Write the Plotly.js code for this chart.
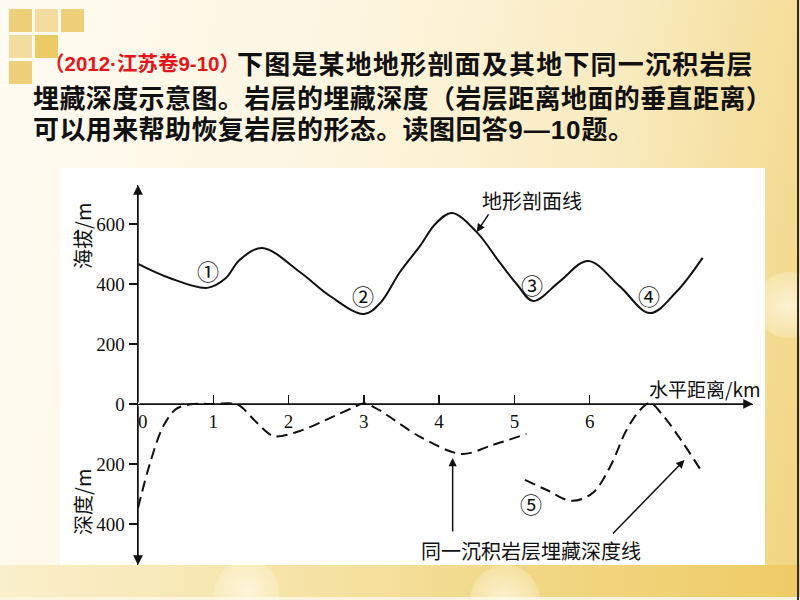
<!DOCTYPE html>
<html>
<head>
<meta charset="utf-8">
<script src="https://cdn.plot.ly/plotly-3.0.1.min.js"></script>
<style>
  html, body { margin: 0; padding: 0; }
  #slide {
    position: relative; width: 800px; height: 600px; overflow: hidden;
    background: linear-gradient(100deg, #fffbf2 0%, #fdf5df 40%, #f9ebc0 70%, #f4dc95 90%, #f1d47f 100%);
    font-family: "Noto Sans CJK SC", sans-serif;
  }
  .sq { position: absolute; width: 23px; height: 23px; }
  .dk { background: #eed07a; }
  .lt { background: #f3dd9e; }
  #bottomband {
    position: absolute; left: 0; top: 565px; width: 800px; height: 32px;
    background: linear-gradient(90deg, #faefcc 0%, #f6e4a9 35%, #f2d886 65%, #eecb65 100%);
  }
  #bottomline { position: absolute; left: 0; top: 597px; width: 800px; height: 3px; background: #fcf4dc; }
  #rightline { position: absolute; left: 797px; top: 0; width: 2px; height: 600px; background: #2a2a2a; }
  .glow { position: absolute; border-radius: 50%;
    background: radial-gradient(circle, rgba(255,250,230,0.75) 0%, rgba(255,250,230,0.35) 60%, rgba(255,250,230,0) 100%); }
  #whitebox { position: absolute; left: 60px; top: 168px; width: 705px; height: 397px; background: #ffffff; }
  .line { position: absolute; white-space: nowrap; font-weight: bold; color: #111; font-size: 26px; line-height: 26px; letter-spacing: 0.4px; }
  .red { color: #e3151a; font-size: 20.5px; line-height: 20px; font-family: "Liberation Sans", "Noto Sans CJK SC", sans-serif; letter-spacing: 0; }
  .lat { font-family: "Liberation Sans", sans-serif; letter-spacing: 1px; }
  #chart { position: absolute; left: 0; top: 0; width: 800px; height: 600px; }
</style>
</head>
<body>
<div id="slide">
  <div class="sq dk" style="left:9px;top:9px"></div>
  <div class="sq lt" style="left:35px;top:9px"></div>
  <div class="sq dk" style="left:61px;top:9px"></div>
  <div class="sq lt" style="left:9px;top:35px"></div>
  <div class="sq dk" style="left:35px;top:35px;background:#ecca64"></div>
  <div class="sq dk" style="left:9px;top:61px"></div>
  <div id="bottomband"></div>
  <div id="bottomline"></div>
  <div class="glow" style="left:215px;top:560px;width:64px;height:64px"></div>
  <div class="glow" style="left:470px;top:565px;width:70px;height:70px"></div>
  <div class="glow" style="left:755px;top:272px;width:66px;height:66px"></div>
  <div id="rightline"></div>
  <div id="whitebox"></div>
  <div class="line red" style="left:44px;top:54px">（2012·江苏卷9-10）</div>
  <div class="line" style="left:237px;top:50px;letter-spacing:1.2px">下图是某地地形剖面及其地下同一沉积岩层</div>
  <div class="line" style="left:33px;top:84px">埋藏深度示意图。岩层的埋藏深度（岩层距离地面的垂直距离）</div>
  <div class="line" style="left:33px;top:115px">可以用来帮助恢复岩层的形态。读图回答<span class="lat">9—10</span>题。</div>
  <div id="chart"></div>
</div>
<script>
// ---- data ----
// Terrain profile (horizontal distance in km, elevation in m)
const terrainKm   = [0, 0.42, 0.92, 1.16, 1.35, 1.65, 2.15, 2.55, 3.0, 3.22, 3.48, 3.75, 3.95, 4.17, 4.5, 4.81, 5.03, 5.25, 5.6, 5.98, 6.4, 6.8, 7.15, 7.5];
const terrainElev = [467, 420, 387, 418, 480, 520, 440, 360, 300, 337, 440, 528, 600, 637, 573, 470, 400, 343, 408, 477, 392, 303, 373, 487];
// Burial depth of the same sedimentary layer (m below ground), two segments
const depthKm1 = [0, 0.16, 0.33, 0.5, 0.68, 1.0, 1.32, 1.55, 1.8, 2.15, 2.5, 2.86, 3.0, 3.2, 3.75, 4.3, 4.71, 5.16];
const depth1   = [347, 197, 77, 18, 2, 0, 2, 55, 107, 90, 53, 12, -2, 20, 110, 167, 137, 100];
const depthKm2 = [5.14, 5.43, 5.76, 6.04, 6.27, 6.49, 6.67, 6.8, 6.97, 7.24, 7.5];
const depth2   = [253, 287, 323, 297, 210, 87, 20, -3, 37, 130, 230];
// Axis ticks
const xTickVals = [1, 2, 3, 4, 5, 6];
const xTickText = ['1', '2', '3', '4', '5', '6'];
const yTickVals = [-400, -200, 0, 200, 400, 600];
const yTickText = ['400', '200', '0', '200', '400', '600'];

const X_MAX = 8.17, Y_MIN = -537, Y_MAX = 730;
const serif = 'Liberation Serif, Times New Roman, serif';
const cjk = 'Noto Sans CJK SC, sans-serif';

const traces = [
  { x: terrainKm, y: terrainElev, type: 'scatter', mode: 'lines',
    line: { color: '#111', width: 2, shape: 'spline', smoothing: 1 }, hoverinfo: 'skip', cliponaxis: false },
  { x: depthKm1, y: depth1.map(d => -d), type: 'scatter', mode: 'lines',
    line: { color: '#111', width: 2, shape: 'spline', smoothing: 0.9, dash: '11px,6px' }, hoverinfo: 'skip', cliponaxis: false },
  { x: depthKm2, y: depth2.map(d => -d), type: 'scatter', mode: 'lines',
    line: { color: '#111', width: 2, shape: 'spline', smoothing: 1, dash: '11px,6px' }, hoverinfo: 'skip', cliponaxis: false }
];

function txt(text, x, y, size, font, extra) {
  return Object.assign({ text: text, x: x, y: y, xref: 'x', yref: 'y', showarrow: false,
    font: { size: size, family: font, color: '#111' } }, extra || {});
}
function arrow(x, y, ax, ay, w, s) {
  return { x: x, y: y, ax: ax, ay: ay, xref: 'x', yref: 'y', axref: 'x', ayref: 'y',
    text: '', showarrow: true, arrowhead: 2, arrowsize: s, arrowwidth: w, arrowcolor: '#111', standoff: 0, startstandoff: 0 };
}

const annotations = [
  arrow(0, Y_MAX, 0, 0, 1.5, 1.3),
  arrow(0, Y_MIN, 0, 0, 1.5, 1.3),
  arrow(X_MAX, 0, 0, 0, 1.5, 1.3),
  txt('0', 0.07, -60, 19, serif),
  { text: '海拔/m', x: -0.0894, y: 0.866, xref: 'paper', yref: 'paper', xanchor: 'center', yanchor: 'middle',
    showarrow: false, textangle: -90, font: { size: 20, family: cjk, color: '#111' } },
  { text: '深度/m', x: -0.0894, y: 0.166, xref: 'paper', yref: 'paper', xanchor: 'center', yanchor: 'middle',
    showarrow: false, textangle: -90, font: { size: 20, family: cjk, color: '#111' } },
  txt('水平距离/km', 7.53, 53, 19, cjk),
  txt('地形剖面线', 5.23, 680, 20, cjk),
  arrow(4.50, 573, 4.67, 637, 1.5, 1.1),
  txt('①', 0.93, 447, 22, cjk),
  txt('②', 2.99, 363, 22, cjk),
  txt('③', 5.23, 400, 22, cjk),
  txt('④', 6.79, 363, 22, cjk),
  txt('⑤', 5.22, -330, 22, cjk),
  txt('同一沉积岩层埋藏深度线', 5.22, -490, 20, cjk),
  arrow(4.18, -180, 4.18, -430, 1.5, 1.1),
  arrow(7.26, -187, 6.29, -437, 1.5, 1.1)
];

const layout = {
  width: 800, height: 600,
  margin: { l: 138, r: 47, t: 185, b: 35, pad: 0 },
  paper_bgcolor: 'rgba(0,0,0,0)', plot_bgcolor: 'rgba(0,0,0,0)',
  showlegend: false,
  xaxis: { range: [0, X_MAX], anchor: 'free', position: (0 - Y_MIN) / (Y_MAX - Y_MIN),
    showline: true, linecolor: '#111', linewidth: 1.5, ticks: 'inside', ticklen: 9, tickwidth: 1.5, tickcolor: '#111',
    tickvals: xTickVals, ticktext: xTickText, showgrid: false, zeroline: false,
    tickfont: { family: serif, size: 19, color: '#111' }, fixedrange: true },
  yaxis: { range: [Y_MIN, Y_MAX], showline: true, linecolor: '#111', linewidth: 1.5,
    ticks: 'outside', ticklen: 8, tickwidth: 1.5, tickcolor: '#111',
    tickvals: yTickVals, ticktext: yTickText, showgrid: false, zeroline: false,
    tickfont: { family: serif, size: 19, color: '#111' }, fixedrange: true },
  annotations: annotations
};

Plotly.newPlot('chart', traces, layout, { staticPlot: true, displayModeBar: false });
</script>
</body>
</html>
